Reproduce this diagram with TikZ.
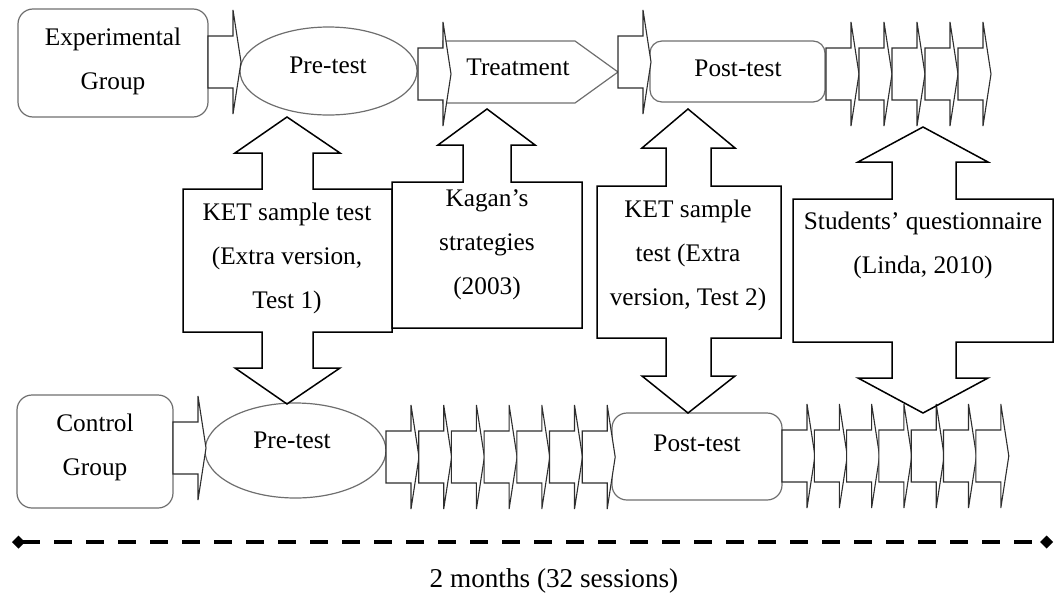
\documentclass[tikz,border=0pt]{standalone}
\usepackage{fontspec}
\setmainfont{Liberation Serif}
\usetikzlibrary{shapes.geometric,arrows.meta}
\definecolor{boxgray}{HTML}{6E6E6E}
\definecolor{chevgray}{HTML}{2E2E2E}
\tikzset{
	grp/.style={
		rectangle,
		rounded corners=7.5pt,
		draw=boxgray,
		line width=0.6pt,
		inner sep=0pt,
	},
	pre/.style={
		ellipse,
		draw=boxgray,
		line width=0.6pt,
		inner sep=0pt,
	},
	txt/.style={
		align=center,
		inner sep=0pt,
		font=\fontsize{12.65}{22}\selectfont,
	},
	bigarrow/.style={
		draw=black,
		line width=0.75pt,
		line join=miter,
	},
	chev/.pic={
		\draw[draw=chevgray,fill=white,line width=0.55pt]
		  (0,-26) -- (25,-26) -- (25,-52) -- (33,0) -- (25,52) -- (25,26) -- (0,26) -- cycle;
	},
	span/.style={
		line width=2pt,
		dash pattern=on 9pt off 7pt,
		{Diamond[length=6.5pt,width=6.5pt]}-{Diamond[length=6.5pt,width=6.5pt]},
	}
}
\begin{document}
\begin{tikzpicture}[x=0.5pt,y=-0.5pt]
\useasboundingbox (0,0) rectangle (1059,595);

\node[grp,minimum width=95pt,minimum height=54pt] (exp) at (113,63) {};
\node[pre,minimum width=88.5pt,minimum height=44pt] (epre) at (328.5,71) {};
\draw[draw=boxgray,line width=0.6pt] (443,41) -- (575,41) -- (618,72) -- (575,103) -- (443,103) -- cycle;
\node[grp,rounded corners=6pt,minimum width=87.5pt,minimum height=30.5pt] (epost) at (737.5,71.5) {};

\node[grp,minimum width=78pt,minimum height=56.5pt] (con) at (95,451.5) {};
\node[pre,minimum width=90.5pt,minimum height=47.5pt] (cpre) at (295.5,450.5) {};
\node[grp,minimum width=85pt,minimum height=43.5pt] (cpost) at (697,456.5) {};

\pic at (208,62) {chev};
\pic at (418,74) {chev};
\pic at (618,62) {chev};
\foreach \i in {0,...,4}
  \pic at ({826+33*\i},74) {chev};

\pic at (173,448) {chev};
\foreach \i in {0,...,6}
  \pic at ({386+32.7*\i},457) {chev};
\foreach \i in {0,...,6}
  \pic at ({782+32.3*\i},456) {chev};

\draw[bigarrow] (183,189) -- (262,189) -- (262,153) -- (235,153) -- (287,117) -- (340,153) -- (313,153) -- (313,189)
  -- (392,189) -- (392,332) -- (313,332) -- (313,368) -- (340,368) -- (287,404) -- (235,368) -- (262,368) -- (262,332)
  -- (183,332) -- cycle;

\draw[bigarrow] (392,182) -- (463,182) -- (463,145) -- (438,145) -- (487,109) -- (535,145) -- (511,145) -- (511,182)
  -- (582,182) -- (582,328) -- (392,328) -- cycle;

\draw[bigarrow] (597,186) -- (666,186) -- (666,148) -- (642,148) -- (688,109) -- (735,148) -- (711,148) -- (711,186)
  -- (781,186) -- (781,338) -- (711,338) -- (711,376) -- (735,376) -- (688,413) -- (642,376) -- (666,376) -- (666,338)
  -- (597,338) -- cycle;

\draw[bigarrow] (793,199) -- (892,199) -- (892,162) -- (858,162) -- (923,127) -- (988,162) -- (956,162) -- (956,199)
  -- (1053,199) -- (1053,342) -- (956,342) -- (956,378) -- (988,378) -- (923,413) -- (858,378) -- (892,378) -- (892,342)
  -- (793,342) -- cycle;

\node[txt] (exptxt) at (113,61) {Experimental\\Group};
\node[txt] (epretxt) at (328,65) {Pre-test};
\node[txt] (treat) at (518,67) {Treatment};
\node[txt] (eposttxt) at (738,68) {Post-test};

\node[txt] (contxt) at (95,447) {Control\\Group};
\node[txt] (cpretxt) at (292,440) {Pre-test};
\node[txt] (cposttxt) at (697,443) {Post-test};

\node[txt] (ket1) at (287,258) {KET sample test\\(Extra version,\\Test 1)};
\node[txt] (kagan) at (487,245) {Kagan’s\\strategies\\(2003)};
\node[txt] (ket2) at (688,255) {KET sample\\test (Extra\\version, Test 2)};
\node[txt] (quest) at (923,245) {Students’ questionnaire\\(Linda, 2010)};

\coordinate (tl) at (12,542);
\coordinate (tr) at (1053,542);
\draw[span] (tl) -- (tr);
\node[txt,font=\fontsize{13.6}{16}\selectfont] (months) at (554,581) {2 months (32 sessions)};

\end{tikzpicture}
\end{document}
